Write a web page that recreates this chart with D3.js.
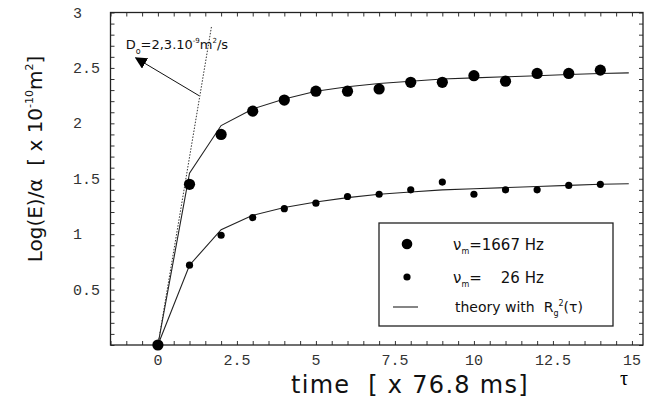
<!DOCTYPE html>
<html>
<head>
<meta charset="utf-8">
<script src="https://cdn.jsdelivr.net/npm/d3@7"></script>
<style>
  body { margin: 0; background: #fff; }
  svg { display: block; }
  .tick line { stroke: #333; }
  .domain { display: none; }
  .lbl { font-family: "Liberation Mono", monospace; font-size: 15px; fill: #333; }
  .sans { font-family: "DejaVu Sans", sans-serif; fill: #111; white-space: pre; }
</style>
</head>
<body>
<div id="chart"></div>
<script>
// data
var times = [0, 1, 2, 3, 4, 5, 6, 7, 8, 9, 10, 11, 12, 13, 14];
var fast = [0, 1.45, 1.90, 2.11, 2.21, 2.29, 2.29, 2.31, 2.37, 2.37, 2.43, 2.38, 2.45, 2.45, 2.48];   // 1667 Hz
var slow = [0, 0.72, 0.99, 1.15, 1.23, 1.28, 1.34, 1.36, 1.40, 1.47, 1.36, 1.40, 1.40, 1.44, 1.45];   // 26 Hz
var theoryT = [0, 1, 2, 3, 4, 5, 6, 7, 8, 9, 10, 11, 12, 13, 14, 14.9];
var theoryFast = [0, 1.55, 1.98, 2.13, 2.22, 2.29, 2.33, 2.36, 2.38, 2.40, 2.41, 2.42, 2.43, 2.44, 2.45, 2.455];
var theorySlow = [0, 0.72, 1.04, 1.17, 1.24, 1.29, 1.33, 1.36, 1.38, 1.40, 1.41, 1.42, 1.43, 1.44, 1.45, 1.455];
var slopeLine = [[0, 0], [1.7, 2.88]];
var xLabels = [0, 2.5, 5, 7.5, 10, 12.5, 15];
var yLabels = [0.5, 1, 1.5, 2, 2.5, 3];

var width = 656, height = 409;
var pLeft = 110.5, pRight = 643, pTop = 12.5, pBottom = 345;

var svg = d3.select('#chart')
    .append('svg')
    .attr('width', width)
    .attr('height', height);

var x = d3.scaleLinear().domain([-1.5, 15.35]).range([pLeft, pRight]);
var y = d3.scaleLinear().domain([0, 3]).range([pBottom, pTop]);

// minor ticks on all four sides, pointing inward
svg.append('g')
    .attr('transform', `translate(0,${pBottom})`)
    .call(d3.axisBottom(x).tickValues(d3.range(-1.5, 15.3, 0.5)).tickSize(-4).tickFormat(''));
svg.append('g')
    .attr('transform', `translate(0,${pTop})`)
    .call(d3.axisTop(x).tickValues(d3.range(-1.5, 15.3, 0.5)).tickSize(-4).tickFormat(''));
svg.append('g')
    .attr('transform', `translate(${pLeft},0)`)
    .call(d3.axisLeft(y).tickValues(d3.range(0, 3.01, 0.1)).tickSize(-4).tickFormat(''));
svg.append('g')
    .attr('transform', `translate(${pRight},0)`)
    .call(d3.axisRight(y).tickValues(d3.range(0, 3.01, 0.1)).tickSize(-4).tickFormat(''));

svg.append('rect')
    .attr('x', pLeft).attr('y', pTop)
    .attr('width', pRight - pLeft).attr('height', pBottom - pTop)
    .attr('fill', 'none').attr('stroke', '#222').attr('stroke-width', 1.3);

// tick labels
svg.append('g').selectAll('text')
    .data(xLabels).enter().append('text')
    .attr('class', 'lbl')
    .attr('x', d => x(d))
    .attr('y', pBottom + 20)
    .style('text-anchor', 'middle')
    .text(d => d);

svg.append('g').selectAll('text')
    .data(yLabels).enter().append('text')
    .attr('class', 'lbl')
    .attr('x', 73)
    .attr('y', d => y(d) + 5)
    .style('text-anchor', 'start')
    .text(d => d);

// theory curves
var line = d3.line().x(d => x(d[0])).y(d => y(d[1]));
[theoryFast, theorySlow].forEach(function (s) {
    svg.append('path')
        .datum(theoryT.map((t, i) => [t, s[i]]))
        .attr('fill', 'none')
        .attr('stroke', '#222')
        .attr('stroke-width', 1.1)
        .attr('d', line);
});

// dotted slope line
svg.append('path')
    .datum(slopeLine)
    .attr('fill', 'none')
    .attr('stroke', '#333')
    .attr('stroke-width', 1)
    .attr('stroke-dasharray', '1.5,1.5')
    .attr('d', line);

// points
svg.append('g').selectAll('circle')
    .data(times).enter().append('circle')
    .attr('cx', d => x(d))
    .attr('cy', (d, i) => y(slow[i]))
    .attr('r', 3.6)
    .attr('fill', '#000');
svg.append('g').selectAll('circle')
    .data(times).enter().append('circle')
    .attr('cx', d => x(d))
    .attr('cy', (d, i) => y(fast[i]))
    .attr('r', 5.6)
    .attr('fill', '#000');

// annotation arrow
svg.append('defs').append('marker')
    .attr('id', 'head')
    .attr('viewBox', '0 0 10 10')
    .attr('refX', 9).attr('refY', 5)
    .attr('markerWidth', 12).attr('markerHeight', 12)
    .attr('markerUnits', 'userSpaceOnUse')
    .attr('orient', 'auto')
    .append('path').attr('d', 'M0,0 L10,5 L0,10 z').attr('fill', '#000');

svg.append('line')
    .attr('x1', x(1.3)).attr('y1', y(2.25))
    .attr('x2', x(-0.7)).attr('y2', y(2.59))
    .attr('stroke', '#111').attr('stroke-width', 1)
    .attr('marker-end', 'url(#head)');

var ann = svg.append('text')
    .attr('class', 'sans')
    .attr('x', x(-1.02)).attr('y', y(2.67))
    .style('font-size', '13px');
ann.append('tspan').text('D');
ann.append('tspan').attr('dy', 5).style('font-size', '8px').text('o');
ann.append('tspan').attr('dy', -5).text('=2,3.10');
ann.append('tspan').attr('dy', -6).style('font-size', '7px').text('-9');
ann.append('tspan').attr('dy', 6).text('m');
ann.append('tspan').attr('dy', -6).style('font-size', '7px').text('2');
ann.append('tspan').attr('dy', 6).text('/s');

// legend
var lg = svg.append('g');
lg.append('rect')
    .attr('x', 379).attr('y', 223).attr('width', 234).attr('height', 103)
    .attr('fill', '#fff').attr('stroke', '#222').attr('stroke-width', 1.3);
lg.append('circle').attr('cx', 407).attr('cy', 244).attr('r', 5.3).attr('fill', '#000');
lg.append('circle').attr('cx', 407).attr('cy', 277).attr('r', 3.6).attr('fill', '#000');
lg.append('line').attr('x1', 393).attr('x2', 418).attr('y1', 307).attr('y2', 307)
    .attr('stroke', '#222').attr('stroke-width', 1.1);

function nuLabel(yy, val) {
    var t = lg.append('text').attr('class', 'sans').attr('x', 453).attr('y', yy).style('font-size', '15px');
    t.append('tspan').text('ν');
    t.append('tspan').attr('dy', 4).style('font-size', '8px').text('m');
    t.append('tspan').attr('dy', -4).text('=' + val);
}
nuLabel(250, '1667 Hz');
nuLabel(283, '    26 Hz');

var th = lg.append('text').attr('class', 'sans').attr('x', 455).attr('y', 312).style('font-size', '14px');
th.append('tspan').text('theory with  R');
th.append('tspan').attr('dy', 4).style('font-size', '8px').text('g');
th.append('tspan').attr('dy', -10).style('font-size', '8px').text('2');
th.append('tspan').attr('dy', 6).text('(τ)');

// axis titles
svg.append('text')
    .attr('class', 'sans')
    .attr('x', 410).attr('y', 393)
    .style('font-size', '24px')
    .style('letter-spacing', '1.3px')
    .style('text-anchor', 'middle')
    .text('time  [ x 76.8 ms]');

svg.append('text')
    .attr('x', 624).attr('y', 385)
    .style('font-family', '"Liberation Serif", serif')
    .style('font-size', '20px')
    .style('text-anchor', 'middle')
    .text('τ');

var yt = svg.append('text')
    .attr('class', 'sans')
    .attr('transform', 'translate(42,159) rotate(-90)')
    .style('font-size', '20px')
    .style('text-anchor', 'middle');
yt.append('tspan').text('Log(E)/α  [ x 10');
yt.append('tspan').attr('dy', -9).style('font-size', '11px').text('-10');
yt.append('tspan').attr('dy', 9).text('m');
yt.append('tspan').attr('dy', -9).style('font-size', '11px').text('2');
yt.append('tspan').attr('dy', 9).text(']');
</script>
</body>
</html>
